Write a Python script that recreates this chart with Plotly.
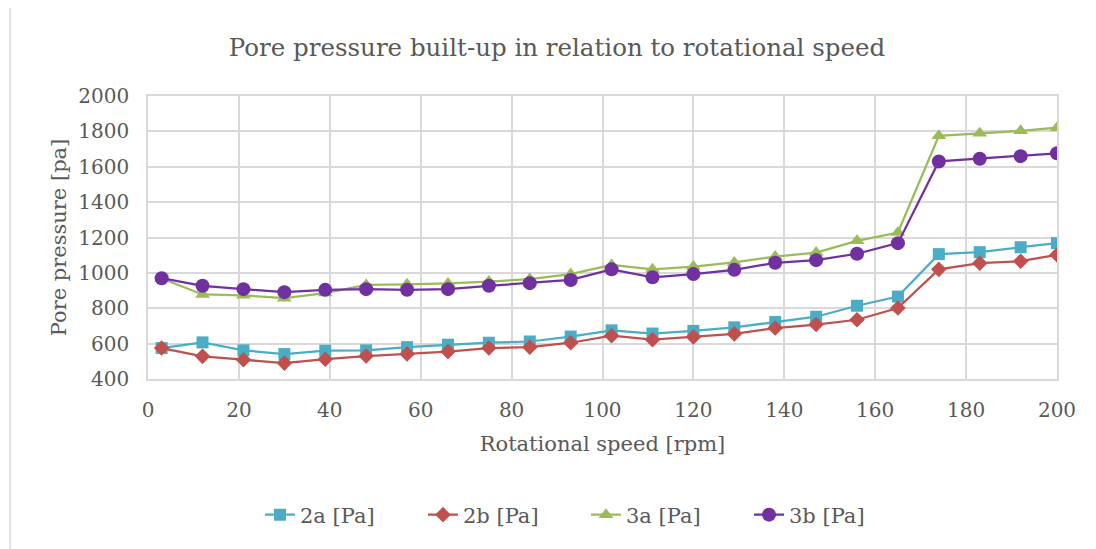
import plotly.graph_objects as go

# Data
rpm = [3, 12, 21, 30, 39, 48, 57, 66, 75, 84, 93, 102, 111, 120, 129, 138, 147, 156, 165, 174, 183, 192, 200]
p_2a = [575, 607, 562, 541, 560, 562, 580, 594, 605, 612, 640, 675, 657, 672, 692, 722, 752, 814, 866, 1106, 1117, 1145, 1168]
p_2b = [575, 528, 509, 490, 512, 530, 542, 555, 575, 580, 605, 645, 622, 638, 655, 688, 708, 735, 801, 1020, 1055, 1066, 1102]
p_3a = [968, 878, 873, 857, 886, 932, 935, 940, 951, 965, 993, 1045, 1020, 1036, 1059, 1092, 1115, 1181, 1228, 1775, 1789, 1803, 1821]
p_3b = [970, 927, 908, 891, 904, 908, 904, 908, 927, 942, 960, 1020, 975, 993, 1017, 1057, 1072, 1108, 1168, 1630, 1645, 1660, 1676]

series_names = ["2a [Pa]", "2b [Pa]", "3a [Pa]", "3b [Pa]"]
series_values = [p_2a, p_2b, p_3a, p_3b]
colors = ["#4BACC6", "#C0504D", "#9BBB59", "#7030A0"]
symbols = ["square", "diamond", "triangle-up", "circle"]
sizes = [12, 12, 13, 14]

FONT = "DejaVu Serif"
TXT = "#595959"
GRID = "#d9d9d9"

fig = go.Figure()
for name, vals, c, s, sz in zip(series_names, series_values, colors, symbols, sizes):
    fig.add_trace(go.Scatter(
        x=rpm, y=vals, name=name, mode="lines+markers",
        line=dict(color=c, width=2.25),
        marker=dict(color=c, symbol=s, size=sz, line=dict(width=0)),
    ))

# page offset (body margin) and target geometry in screen pixels
OFF = 8
W, H = 1096 - OFF, 549 - OFF
L, R, T, B = 148 - OFF, 1057 - OFF, 96 - OFF, 379 - OFF

def px_x(p):
    return (p - OFF - L) / (R - L)

def px_y(p):
    return (B - (p - OFF)) / (B - T)

fig.update_layout(
    width=W, height=H,
    margin=dict(l=L, r=W - R, t=T, b=H - B),
    paper_bgcolor="white", plot_bgcolor="white",
    font=dict(family=FONT, color=TXT, size=20),
    title=dict(text="Pore pressure built-up in relation to rotational speed",
               x=(557 - OFF) / W, xref="container", xanchor="center",
               y=1 - (47 - OFF) / H, yref="container", yanchor="middle",
               font=dict(family=FONT, size=24.5, color=TXT)),
    showlegend=True,
    legend=dict(orientation="h", x=px_x(586), xanchor="center",
                y=px_y(515), yanchor="middle",
                font=dict(family=FONT, size=21, color=TXT),
                entrywidth=118, entrywidthmode="pixels",
                bgcolor="rgba(0,0,0,0)"),
    xaxis=dict(range=[0, 200], dtick=20, showgrid=True, gridcolor=GRID, gridwidth=1.5,
               showline=True, linecolor=GRID, linewidth=1.5, mirror=True, zeroline=False,
               ticks="outside", ticklen=12, tickcolor="rgba(0,0,0,0)",
               tickfont=dict(family=FONT, size=20, color=TXT),
               title=dict(text="Rotational speed [rpm]", standoff=16,
                          font=dict(family=FONT, size=21, color=TXT))),
    yaxis=dict(range=[400, 2000], dtick=200, showgrid=True, gridcolor=GRID, gridwidth=1.5,
               showline=True, linecolor=GRID, linewidth=1.5, mirror=True, zeroline=False,
               ticks="outside", ticklen=13, tickcolor="rgba(0,0,0,0)",
               tickfont=dict(family=FONT, size=20, color=TXT),
               title=dict(text="Pore pressure [pa]", standoff=6,
                          font=dict(family=FONT, size=21, color=TXT))),
    shapes=[
        dict(type="line", xref="paper", yref="paper",
             x0=px_x(10), x1=px_x(1100), y0=px_y(7), y1=px_y(7),
             line=dict(color=GRID, width=1.5)),
        dict(type="line", xref="paper", yref="paper",
             x0=px_x(10), x1=px_x(10), y0=px_y(7), y1=px_y(555),
             line=dict(color=GRID, width=1.5)),
    ],
)

fig.write_html("out.html")
